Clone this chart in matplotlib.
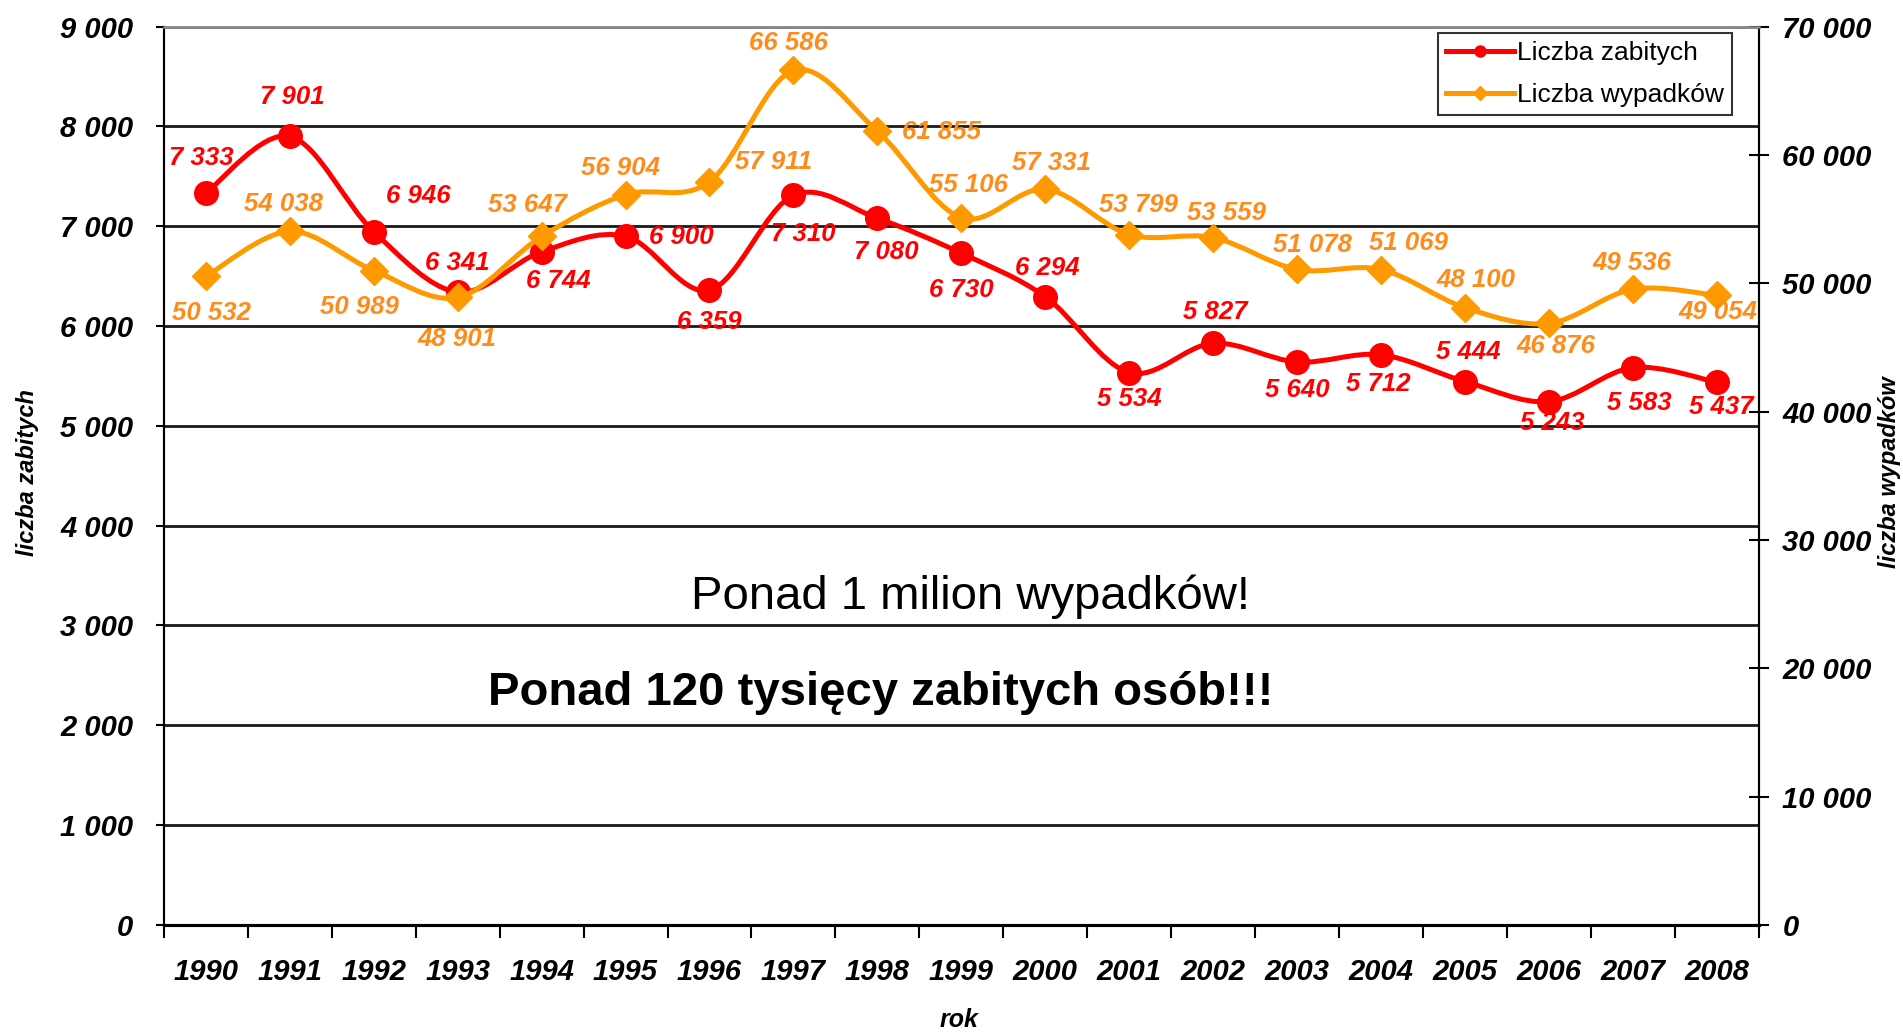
import matplotlib
matplotlib.use('Agg')
import matplotlib.pyplot as plt
import numpy as np
from matplotlib.path import Path
from matplotlib.patches import PathPatch
from matplotlib.lines import Line2D

plt.rcParams['font.family'] = ['Liberation Sans', 'DejaVu Sans']

# data
years = [1990, 1991, 1992, 1993, 1994, 1995, 1996, 1997, 1998, 1999,
         2000, 2001, 2002, 2003, 2004, 2005, 2006, 2007, 2008]
zabitych = [7333, 7901, 6946, 6341, 6744, 6900, 6359, 7310, 7080, 6730,
            6294, 5534, 5827, 5640, 5712, 5444, 5243, 5583, 5437]
wypadkow = [50532, 54038, 50989, 48901, 53647, 56904, 57911, 66586, 61855, 55106,
            57331, 53799, 53559, 51078, 51069, 48100, 46876, 49536, 49054]
left_ticks = [0, 1000, 2000, 3000, 4000, 5000, 6000, 7000, 8000, 9000]
right_ticks = [0, 10000, 20000, 30000, 40000, 50000, 60000, 70000]

# label offsets (pixels on the small preview, +y = down)
red_off = [(-4, -29), (2, -32), (37, -29), (0, -24), (14, 24), (46, 1), (0, 26),
           (8, 32), (7, 28), (0, 30), (2, -24), (0, 22), (2, -26), (0, 23),
           (-2, 24), (3, -24), (3, 18), (5, 29), (4, 20)]
orn_off = [(5, 30), (-5, -23), (-12, 30), (-1, 34), (-12, -26), (-4, -22), (53, -16),
           (-4, -23), (53, 1), (6, -27), (5, -22), (8, -24), (11, -20), (13, -20),
           (23, -22), (9, -23), (6, 19), (-1, -22), (1, 14)]

RED = '#FF0000'
ORANGE = '#FF9900'
ORANGE_TXT = '#FF8C1A'


def fmt(v):
    return '{:,}'.format(v).replace(',', ' ')


# smoothed line like excel (catmull-rom as bezier)
def smooth_path(xs, ys):
    pts = np.column_stack([xs, ys]).astype(float)
    n = len(pts)
    verts = [pts[0]]
    codes = [Path.MOVETO]
    for i in range(n - 1):
        p0 = pts[i - 1] if i > 0 else pts[i]
        p1 = pts[i]
        p2 = pts[i + 1]
        p3 = pts[i + 2] if i + 2 < n else pts[i + 1]
        verts += [p1 + (p2 - p0) / 6.0, p2 - (p3 - p1) / 6.0, p2]
        codes += [Path.CURVE4] * 3
    return Path(verts, codes)


fig = plt.figure(figsize=(19.03, 10.33), dpi=100)
ax = fig.add_axes([0.0861, 0.1047, 0.8381, 0.8695])
ax2 = ax.twinx()

x = np.arange(len(years)) + 0.5

ax.set_xlim(0, len(years))
ax.set_ylim(0, 9000)
ax2.set_ylim(0, 70000)

# grid
for t in left_ticks[1:-1]:
    ax.axhline(t, color='#1a1a1a', lw=2.0, zorder=0)
ax.axhline(9000, color='#888888', lw=1.8, zorder=0)

# red series
ax.add_patch(PathPatch(smooth_path(x, zabitych), fill=False, edgecolor=RED, lw=3.6,
                       capstyle='round', joinstyle='round', zorder=3))
ax.plot(x, zabitych, ls='none', marker='o', ms=17, color=RED, zorder=4)
for xi, v, (dx, dy) in zip(x, zabitych, red_off):
    ax.annotate(fmt(v), (xi, v), xytext=(dx * 0.874, -dy * 0.874), textcoords='offset points',
                ha='center', va='center', color=RED, fontsize=18.5,
                fontweight='bold', fontstyle='italic', zorder=5)

# orange series
ax2.add_patch(PathPatch(smooth_path(x, wypadkow), fill=False, edgecolor=ORANGE, lw=3.6,
                        capstyle='round', joinstyle='round', zorder=3))
ax2.plot(x, wypadkow, ls='none', marker='D', ms=14, color=ORANGE, zorder=4)
for xi, v, (dx, dy) in zip(x, wypadkow, orn_off):
    ax2.annotate(fmt(v), (xi, v), xytext=(dx * 0.874, -dy * 0.874), textcoords='offset points',
                 ha='center', va='center', color=ORANGE_TXT, fontsize=18.5,
                 fontweight='bold', fontstyle='italic', zorder=5)

# axes look
tick_font = dict(fontsize=21, fontweight='bold', fontstyle='italic')
ax.set_yticks(left_ticks)
ax.set_yticklabels([fmt(t) for t in left_ticks], **tick_font)
ax.tick_params(axis='y', direction='out', length=6, width=1.5, pad=16)
ax2.set_yticks(right_ticks)
ax2.set_yticklabels([fmt(t) for t in right_ticks], **tick_font)
ax2.tick_params(axis='y', direction='inout', length=14, width=1.5, pad=10)

ax.set_xticks(np.arange(len(years) + 1))
ax.set_xticklabels([])
ax.tick_params(axis='x', which='major', direction='out', length=9, width=1.5)
ax.set_xticks(x, minor=True)
ax.set_xticklabels([str(y) for y in years], minor=True, **tick_font)
ax.tick_params(axis='x', which='minor', length=0, pad=24)

for a in (ax, ax2):
    a.spines['top'].set_color('#888888')
    a.spines['top'].set_linewidth(1.8)
    a.spines['left'].set_linewidth(1.5)
    a.spines['right'].set_linewidth(1.5)
    a.spines['bottom'].set_linewidth(2.2)

fig.text(0.0142, 0.543, 'liczba zabitych', rotation=90, ha='center', va='center',
         fontsize=17, fontweight='bold', fontstyle='italic')
fig.text(0.993, 0.543, 'liczba wypadków', rotation=90, ha='center', va='center',
         fontsize=17, fontweight='bold', fontstyle='italic')
fig.text(0.504, 0.013, 'rok', ha='center', va='center',
         fontsize=18, fontweight='bold', fontstyle='italic')

fig.text(0.510, 0.422, 'Ponad 1 milion wypadków!', ha='center', va='center', fontsize=34)
fig.text(0.463, 0.329, 'Ponad 120 tysięcy zabitych osób!!!', ha='center', va='center',
         fontsize=34, fontweight='bold')

handles = [Line2D([], [], color=RED, lw=3.6, marker='o', ms=8),
           Line2D([], [], color=ORANGE, lw=3.6, marker='D', ms=7)]
leg = ax2.legend(handles, ['Liczba zabitych', 'Liczba wypadków'],
                 loc='upper right', bbox_to_anchor=(0.910, 0.968), bbox_transform=fig.transFigure,
                 fontsize=19, frameon=True, fancybox=False, edgecolor='black',
                 borderpad=0.3, labelspacing=0.7, handlelength=2.6, handletextpad=0.1,
                 borderaxespad=0)
leg.get_frame().set_linewidth(1.5)
leg.set_zorder(10)

fig.savefig('out.png', dpi=100)
